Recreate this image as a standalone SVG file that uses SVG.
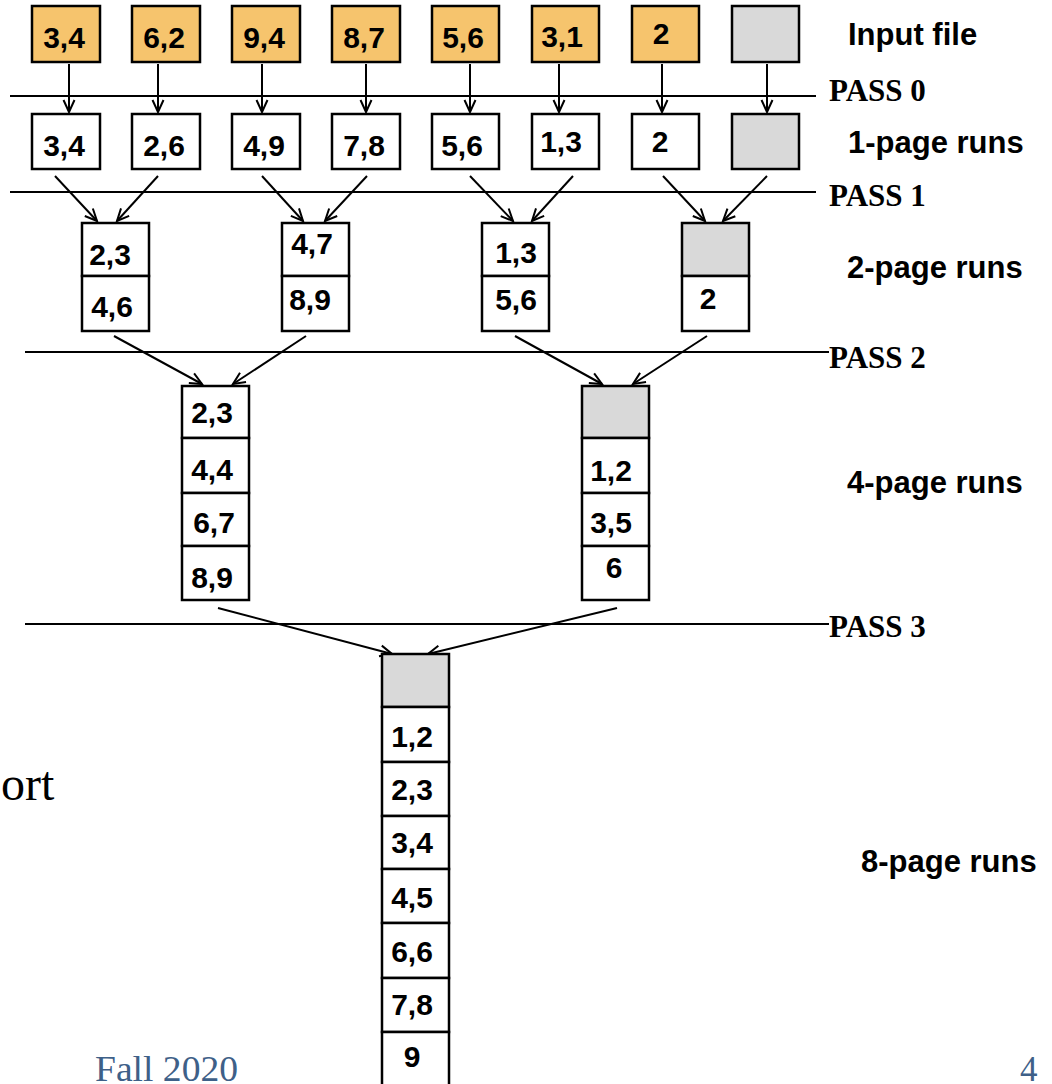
<svg xmlns="http://www.w3.org/2000/svg" width="1052" height="1084" viewBox="0 0 1052 1084">
<defs>
<style>
.bx{stroke:#000;stroke-width:2.5;fill:#fff}
.in{fill:#F6C46D}
.gr{fill:#D9D9D9}
.num{font-family:"Liberation Sans",Arial,sans-serif;font-weight:bold;font-size:30px;fill:#000;text-anchor:middle}
.lab{font-family:"Liberation Sans",Arial,sans-serif;font-weight:bold;font-size:31px;fill:#000}
.pass{font-family:"Liberation Serif","Times New Roman",serif;font-weight:bold;font-size:31px;fill:#000}
.pl{stroke:#000;stroke-width:2}
.ar{stroke:#000;stroke-width:2;fill:none;marker-end:url(#ah)}
.foot{font-family:"Liberation Serif",Georgia,serif;fill:#3E6088}
</style>
<marker id="ah" markerUnits="userSpaceOnUse" markerWidth="16" markerHeight="14" refX="13" refY="7" orient="auto">
<path d="M1,1.5 L13,7 L1,12.5" fill="none" stroke="#000" stroke-width="2"/>
</marker>
</defs>
<rect width="1052" height="1084" fill="#fff"/>

<text x="1" y="800" font-family="'Liberation Serif',Georgia,serif" font-size="48" fill="#000">ort</text>
<text x="95" y="1081" class="foot" font-size="35" textLength="143" lengthAdjust="spacingAndGlyphs">Fall 2020</text>
<text x="1020" y="1081" class="foot" font-size="35">4</text>

<g id="pass-lines">
<line class="pl" x1="10" y1="96" x2="816" y2="96"/>
<line class="pl" x1="10" y1="192" x2="816" y2="192"/>
<line class="pl" x1="25" y1="352" x2="829" y2="352"/>
<line class="pl" x1="25" y1="624" x2="829" y2="624"/>
</g>

<g id="labels">
<text class="lab" x="848" y="45">Input file</text>
<text class="pass" x="829" y="101">PASS 0</text>
<text class="lab" x="848" y="153">1-page runs</text>
<text class="pass" x="829" y="206">PASS 1</text>
<text class="lab" x="847" y="278">2-page runs</text>
<text class="pass" x="829" y="368">PASS 2</text>
<text class="lab" x="847" y="493">4-page runs</text>
<text class="pass" x="829" y="637">PASS 3</text>
<text class="lab" x="861" y="872">8-page runs</text>
</g>

<g id="connectors">
<line class="ar" x1="69" y1="64" x2="69" y2="112"/>
<line class="ar" x1="158" y1="64" x2="158" y2="112"/>
<line class="ar" x1="262" y1="64" x2="262" y2="112"/>
<line class="ar" x1="366" y1="64" x2="366" y2="112"/>
<line class="ar" x1="470" y1="64" x2="470" y2="112"/>
<line class="ar" x1="559" y1="64" x2="559" y2="112"/>
<line class="ar" x1="662" y1="64" x2="662" y2="112"/>
<line class="ar" x1="767" y1="64" x2="767" y2="112"/>

<line class="ar" x1="55" y1="176" x2="97" y2="221"/>
<line class="ar" x1="158" y1="176" x2="117" y2="221"/>
<line class="ar" x1="262" y1="176" x2="303" y2="221"/>
<line class="ar" x1="367" y1="176" x2="325" y2="221"/>
<line class="ar" x1="470" y1="176" x2="513" y2="221"/>
<line class="ar" x1="573" y1="176" x2="532" y2="221"/>
<line class="ar" x1="663" y1="176" x2="705" y2="221"/>
<line class="ar" x1="767" y1="176" x2="723" y2="221"/>

<line class="ar" x1="114" y1="336" x2="202" y2="384"/>
<line class="ar" x1="306" y1="336" x2="233" y2="384"/>
<line class="ar" x1="515" y1="336" x2="602" y2="384"/>
<line class="ar" x1="707" y1="336" x2="633" y2="384"/>

<line class="ar" x1="218" y1="608" x2="392" y2="654"/>
<line class="ar" x1="617" y1="608" x2="428" y2="654"/>
</g>

<g id="input-file">
<g id="in1"><rect class="bx in" x="32" y="6" width="68" height="56"/><text class="num" x="64" y="48">3,4</text></g>
<g id="in2"><rect class="bx in" x="132" y="6" width="68" height="56"/><text class="num" x="164" y="48">6,2</text></g>
<g id="in3"><rect class="bx in" x="232" y="6" width="68" height="56"/><text class="num" x="264" y="48">9,4</text></g>
<g id="in4"><rect class="bx in" x="332" y="6" width="68" height="56"/><text class="num" x="364" y="48">8,7</text></g>
<g id="in5"><rect class="bx in" x="432" y="6" width="67" height="56"/><text class="num" x="463" y="48">5,6</text></g>
<g id="in6"><rect class="bx in" x="532" y="6" width="67" height="56"/><text class="num" x="562" y="47">3,1</text></g>
<g id="in7"><rect class="bx in" x="632" y="6" width="67" height="56"/><text class="num" x="661" y="44">2</text></g>
<g id="in8"><rect class="bx gr" x="732" y="6" width="67" height="56"/></g>
</g>

<g id="one-page-runs">
<g id="r1a"><rect class="bx" x="32" y="114" width="68" height="55"/><text class="num" x="64" y="156">3,4</text></g>
<g id="r1b"><rect class="bx" x="132" y="114" width="68" height="55"/><text class="num" x="164" y="156">2,6</text></g>
<g id="r1c"><rect class="bx" x="232" y="114" width="68" height="55"/><text class="num" x="264" y="156">4,9</text></g>
<g id="r1d"><rect class="bx" x="332" y="114" width="68" height="55"/><text class="num" x="364" y="156">7,8</text></g>
<g id="r1e"><rect class="bx" x="432" y="114" width="67" height="55"/><text class="num" x="462" y="156">5,6</text></g>
<g id="r1f"><rect class="bx" x="532" y="114" width="67" height="55"/><text class="num" x="561" y="152">1,3</text></g>
<g id="r1g"><rect class="bx" x="632" y="114" width="67" height="55"/><text class="num" x="660" y="152">2</text></g>
<g id="r1h"><rect class="bx gr" x="732" y="114" width="67" height="55"/></g>
</g>

<g id="two-page-runs">
<g id="r2a"><rect class="bx" x="82" y="223" width="67" height="53"/><rect class="bx" x="82" y="276" width="67" height="55"/><text class="num" x="110" y="265">2,3</text><text class="num" x="112" y="317">4,6</text></g>
<g id="r2b"><rect class="bx" x="282" y="223" width="67" height="53"/><rect class="bx" x="282" y="276" width="67" height="55"/><text class="num" x="312" y="254">4,7</text><text class="num" x="310" y="310">8,9</text></g>
<g id="r2c"><rect class="bx" x="482" y="223" width="67" height="53"/><rect class="bx" x="482" y="276" width="67" height="55"/><text class="num" x="516" y="263">1,3</text><text class="num" x="516" y="310">5,6</text></g>
<g id="r2d"><rect class="bx gr" x="682" y="223" width="67" height="53"/><rect class="bx" x="682" y="276" width="67" height="55"/><text class="num" x="708" y="309">2</text></g>
</g>

<g id="four-page-runs">
<g id="r4a">
<rect class="bx" x="182" y="386" width="67" height="52"/><rect class="bx" x="182" y="438" width="67" height="55"/><rect class="bx" x="182" y="493" width="67" height="53"/><rect class="bx" x="182" y="546" width="67" height="54"/>
<text class="num" x="212" y="423">2,3</text><text class="num" x="212" y="480">4,4</text><text class="num" x="214" y="533">6,7</text><text class="num" x="212" y="588">8,9</text>
</g>
<g id="r4b">
<rect class="bx gr" x="582" y="386" width="67" height="52"/><rect class="bx" x="582" y="438" width="67" height="55"/><rect class="bx" x="582" y="493" width="67" height="53"/><rect class="bx" x="582" y="546" width="67" height="54"/>
<text class="num" x="611" y="481">1,2</text><text class="num" x="611" y="533">3,5</text><text class="num" x="614" y="578">6</text>
</g>
</g>

<g id="eight-page-run">
<rect class="bx gr" x="382" y="654" width="67" height="53"/>
<rect class="bx" x="382" y="707" width="67" height="55"/>
<rect class="bx" x="382" y="762" width="67" height="54"/>
<rect class="bx" x="382" y="816" width="67" height="53"/>
<rect class="bx" x="382" y="869" width="67" height="54"/>
<rect class="bx" x="382" y="923" width="67" height="55"/>
<rect class="bx" x="382" y="978" width="67" height="54"/>
<rect class="bx" x="382" y="1032" width="67" height="56"/>
<text class="num" x="412" y="747">1,2</text>
<text class="num" x="412" y="800">2,3</text>
<text class="num" x="412" y="853">3,4</text>
<text class="num" x="412" y="908">4,5</text>
<text class="num" x="412" y="962">6,6</text>
<text class="num" x="412" y="1015">7,8</text>
<text class="num" x="412" y="1067">9</text>
</g>
</svg>
